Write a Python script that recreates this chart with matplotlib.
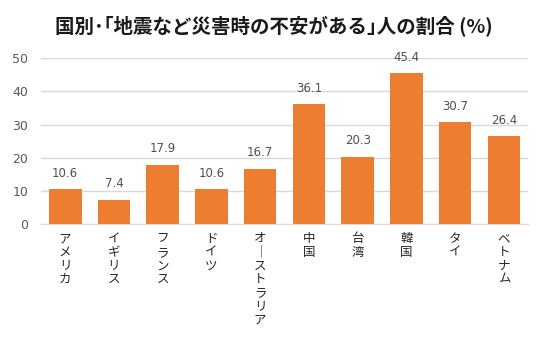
import matplotlib
matplotlib.use("Agg")
import matplotlib.pyplot as plt

plt.rcParams['font.family'] = ['Noto Sans CJK JP', 'DejaVu Sans']

countries = ['アメリカ', 'イギリス', 'フランス', 'ドイツ', 'オーストラリア',
             '中国', '台湾', '韓国', 'タイ', 'ベトナム']
values = [10.6, 7.4, 17.9, 10.6, 16.7, 36.1, 20.3, 45.4, 30.7, 26.4]
yticks = [0, 10, 20, 30, 40, 50]


def vertical(s):
    # stack characters vertically, long vowel mark turned upright
    return '\n'.join('｜' if c == 'ー' else c for c in s)


fig = plt.figure(figsize=(5.59, 3.38), dpi=100)
ax = fig.add_axes([0.073, 0.337, 0.872, 0.491])

x = range(len(countries))
ax.bar(x, values, width=0.67, color='#ED7D31', zorder=3)

for xi, v in zip(x, values):
    ax.text(xi, v + 2.8, f'{v:.1f}', ha='center', va='bottom',
            fontsize=8.5, color='#505050', family=['DejaVu Sans'])

ax.set_ylim(0, 50)
ax.set_xlim(-0.5, len(countries) - 0.5)
ax.set_yticks(yticks)
ax.set_yticklabels([str(t) for t in yticks], fontsize=9, color='#595959',
                   family=['DejaVu Sans'])
ax.set_xticks(list(x))
ax.set_xticklabels([vertical(c) for c in countries], fontsize=9,
                   color='#262626', va='top', linespacing=1.05)
ax.tick_params(axis='both', length=0)
ax.tick_params(axis='y', pad=9)
ax.tick_params(axis='x', pad=6)
ax.grid(axis='y', color='#D9D9D9', linewidth=1, zorder=0)
for side in ['top', 'right', 'left']:
    ax.spines[side].set_visible(False)
ax.spines['bottom'].set_color('#D9D9D9')

fig.text(0.49, 0.92, '国別･｢地震など災害時の不安がある｣人の割合 (%)',
         ha='center', va='center', fontsize=14, fontweight='bold', color='#1a1a1a')

fig.savefig('out.png', dpi=100, facecolor='white')
